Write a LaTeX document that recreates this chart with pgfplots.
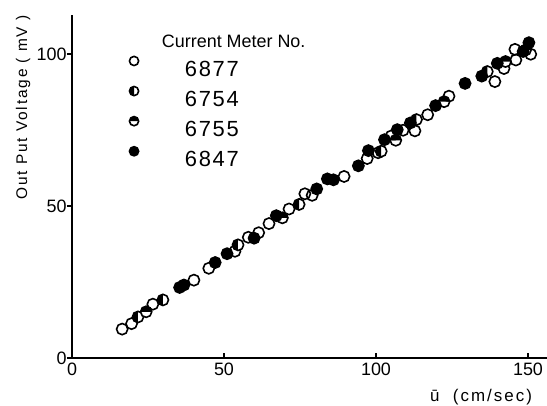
\documentclass[border=0pt]{standalone}
\usepackage{fontspec}
\setmainfont{Liberation Sans}
\usepackage{pgfplots}
\pgfplotsset{compat=1.18}
\usetikzlibrary{plotmarks}
\newcommand{\ls}[1]{\addfontfeature{LetterSpace=#1}}

\begin{document}
\begin{tikzpicture}
\begin{axis}[
  scale only axis, width=475bp, height=343bp,
  xmin=0, xmax=156.25, ymin=0, ymax=112.8,
  axis lines=left, axis line style={-, line width=1.6bp},
  xtick={0,50,100,150}, ytick={0,50,100},
  tick align=inside, major tick length=5bp,
  tick style={line width=1.2bp, black},
  ytick style={xshift=-5bp},
  /pgf/number format/assume math mode=true,
  tick label style={font=\fontsize{18}{18}\selectfont},
  xticklabel style={yshift=-1bp},
  yticklabel style={xshift=-2bp},
  xlabel={ū\ \ (cm/sec)},
  xlabel style={at={(axis description cs:0.976,-0.113)}, anchor=east,
    font=\fontsize{17}{17}\selectfont\ls{12}},
  ylabel={Out Put Voltage ( mV )},
  ylabel style={at={(axis description cs:-0.103,0.73)}, anchor=center,
    font=\fontsize{15.5}{15.5}\selectfont\ls{12}},
  legend cell align=left,
  legend image code/.code={%
    \path (-5bp,0bp) (50bp,7.5bp);
    \draw[#1,mark size=4.6bp] plot coordinates {(0bp,7.5bp)};},
  legend style={draw=none, fill=none, inner sep=0pt,
    at={(axis description cs:0.118,0.880)}, anchor=north west,
    row sep=10bp, column sep=0pt,
    nodes={inner sep=0pt, text height=16bp, text depth=0pt,
      font=\fontsize{22}{22}\selectfont\ls{8}}},
  every axis plot/.append style={only marks, mark size=5.6bp, line width=1.6bp},
]
% 6877 open circles
\addplot[mark=o, black] coordinates {
(16.5,9.5) (19.6,11.3) (26.6,17.7) (40.1,25.6) (45.0,29.5) (53.6,35.1)
(58.0,39.7) (61.4,41.2) (64.8,44.2) (71.4,49.0) (76.6,54.0) (79.0,53.5)
(89.5,59.7) (97.1,65.6) (100.7,67.5) (105.0,73.0) (108.9,74.9) (112.8,74.7)
(117.0,80.0) (124.0,86.1) (139.1,90.9) (142.1,95.2) (145.7,101.5) (146.0,98.0)
(150.9,99.9) (149.2,101.3)
};
% 6754 half filled, white on left
\addplot[mark=halfcircle*, black, mark options={fill=white, mark color=black, rotate=-90}] coordinates {
(21.7,13.5) (29.9,19.1) (54.6,37.2) (74.7,50.5) (101.7,68.0) (113.3,78.4) (136.6,94.2)
};
% 6755 half filled, white on top
\addplot[mark=halfcircle*, black, mark options={fill=white, mark color=black, rotate=180}] coordinates {
(24.4,15.2) (69.2,46.1) (106.5,71.6) (122.4,84.3) (142.6,97.5)
};
% 6847 filled
\addplot[mark=*, black] coordinates {
(35.4,23.2) (36.8,24.0) (47.1,31.4) (51.0,34.3) (59.9,39.4) (67.2,46.8)
(80.5,55.6) (84.0,58.9) (86.0,58.6) (94.2,63.2) (97.5,68.2) (102.8,71.8)
(107.0,75.1) (111.3,77.3) (119.6,83.0) (129.3,90.3) (134.8,92.7) (139.9,96.9)
(148.4,100.8) (150.3,103.7)
};
\legend{6877,6754,6755,6847}
\node[anchor=west, inner sep=0pt, font=\fontsize{18}{18}\selectfont]
  at (axis description cs:0.189,0.923) {Current Meter No.};
\end{axis}
\pgfresetboundingbox
\path[use as bounding box] ([shift={(-72bp,-48bp)}]current axis.south west)
  rectangle ([shift={(0bp,15bp)}]current axis.north east);
\end{tikzpicture}
\end{document}
